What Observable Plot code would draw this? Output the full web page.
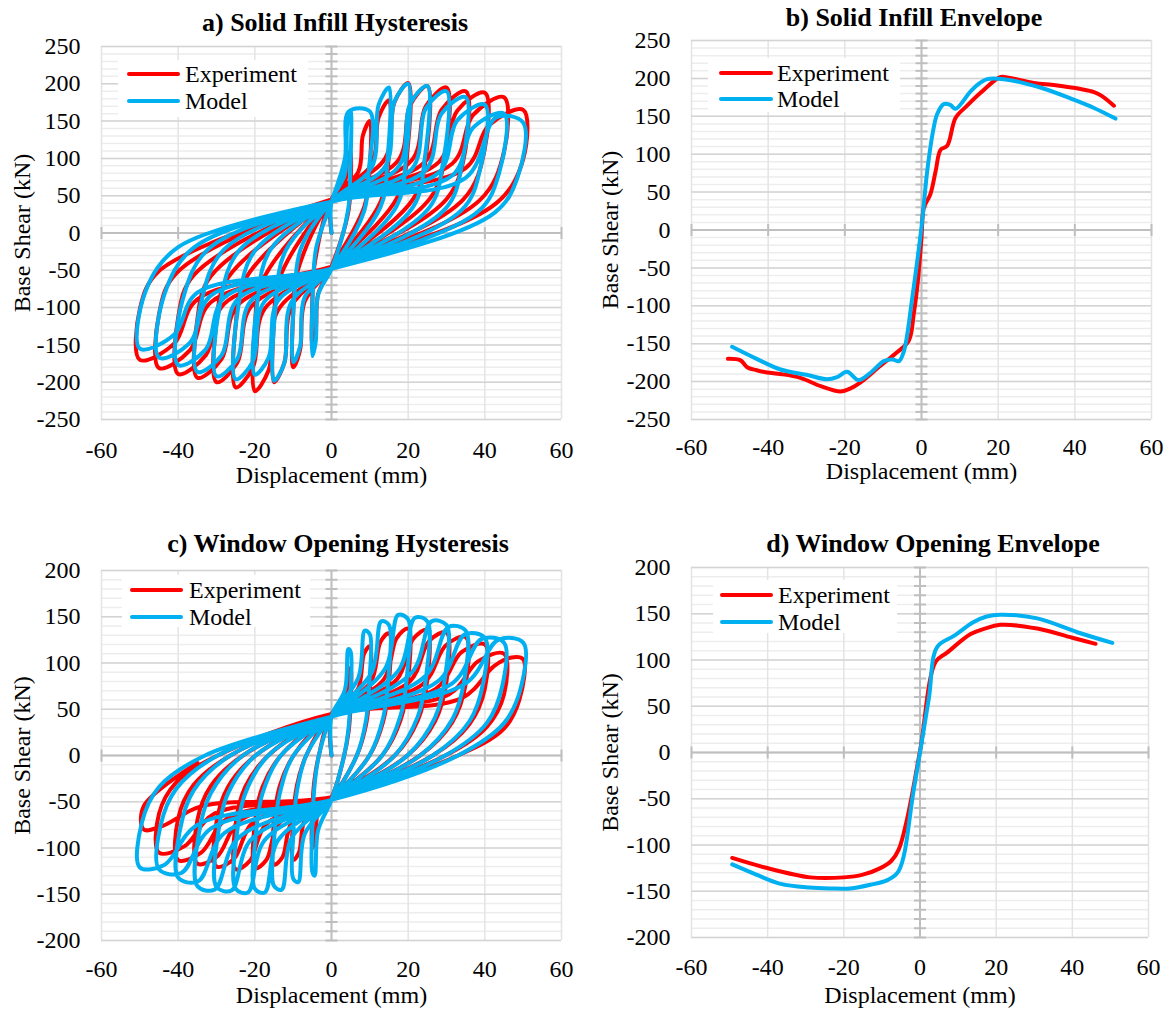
<!DOCTYPE html>
<html>
<head>
<meta charset="utf-8">
<script src="https://cdn.jsdelivr.net/npm/d3@7"></script>
<script src="https://cdn.jsdelivr.net/npm/@observablehq/plot@0.6"></script>
<style>
  body { margin: 0; background: #fff; }
  #root { position: relative; width: 1169px; height: 1010px; font-family: "Liberation Serif", "Times New Roman", serif; color: #000; overflow: hidden; }
  .panel { position: absolute; }
  .panel svg { max-width: none; display: block; }
  .title { position: absolute; font-weight: bold; font-size: 26px; line-height: 26px; white-space: nowrap; transform: translateX(-50%); }
  .lgbox { position: absolute; background: #fff; }
  .lgline { position: absolute; height: 4px; border-radius: 2px; }
  .lgtext { position: absolute; font-size: 24px; line-height: 24px; white-space: nowrap; }
</style>
</head>
<body>
<div id="root"></div>
<script>
// ---------------- DATA ----------------
const xTicks = [-60, -40, -20, 0, 20, 40, 60];
const yTicksSolid = [-250, -200, -150, -100, -50, 0, 50, 100, 150, 200, 250];
const yTicksWindow = [-200, -150, -100, -50, 0, 50, 100, 150, 200];
const yMinorSolid = d3.range(-250, 251, 10);
const yMinorWindow = d3.range(-200, 201, 10);

const seriesNames = ["Experiment", "Model"];
const seriesColors = ["#FF0000", "#00B0F0"];

const titles = ["a) Solid Infill Hysteresis", "b) Solid Infill Envelope", "c) Window Opening Hysteresis", "d) Window Opening Envelope"];
const xLabel = "Displacement (mm)";
const yLabel = "Base Shear (kN)";

// a) Solid infill hysteresis — [displacement mm, base shear kN], cycle by cycle
const solidHystExperiment = [
  [0,0],
  [0,45],[3.5,68],[4.1,96],[5,110],[5,66],[4.3,26],[0,-45],[-3.5,-82],[-4.1,-131],[-5,-150],[-5,-90],[-4.5,-45],
  [0,45],[7,82],[8.2,131],[10,150],[10,90],[8.6,36],[0,-45],[-7,-92],[-8.2,-157],[-10,-180],[-10,-108],[-9,-54],
  [0,45],[10.5,92],[12.3,155],[15,178],[15,107],[12.9,43],[0,-45],[-10.5,-99],[-12.3,-174],[-15,-200],[-15,-120],[-13.5,-60],
  [0,45],[14,100],[16.4,175],[20,201],[20,121],[17.2,48],[0,-45],[-14,-104],[-16.4,-184],[-20,-212],[-20,-127],[-18,-64],
  [0,45],[17.5,98],[20.5,171],[25,197],[25,118],[21.5,47],[0,-45],[-17.5,-102],[-20.5,-180],[-25,-207],[-25,-124],[-22.5,-62],
  [0,45],[21,98],[24.6,170],[30,195],[30,117],[25.8,47],[0,-45],[-21,-99],[-24.6,-174],[-30,-200],[-30,-120],[-27,-60],
  [0,45],[24.5,96],[28.7,165],[35,190],[35,114],[30.1,46],[0,-45],[-24.5,-97],[-28.7,-169],[-35,-194],[-35,-116],[-31.5,-58],
  [0,45],[28,95],[32.8,164],[40,188],[40,113],[34.4,45],[0,-45],[-28,-95],[-32.8,-164],[-40,-189],[-40,-113],[-36,-57],
  [0,45],[31.5,93],[36.9,158],[45,182],[45,109],[38.7,44],[0,-45],[-31.5,-93],[-36.9,-157],[-45,-181],[-45,-109],[-40.5,-54],
  [0,45],[35,87],[41,144],[50,165],[50,99],[43,40],[0,-45],[-35,-89],[-41,-148],[-50,-170],[-50,-102],[-45,-51],[0,45]
];
const solidHystModel = [
  [0,0],
  [0,42],[3.5,79],[4.1,145],[5,165],[4.9,83],[4.3,30],[0,-48],[-3.5,-83],[-4.1,-145],[-5,-165],[-4.9,-83],[-4,-20],
  [0,42],[3.5,100],[4.5,163],[10,163],[9.7,82],[8.5,29],[0,-48],[-7,-86],[-8.2,-152],[-10,-173],[-9.7,-87],[-8,-21],
  [0,42],[10.5,88],[12.3,172],[15,195],[14.6,98],[12.8,35],[0,-48],[-10.5,-93],[-12.3,-174],[-15,-198],[-14.6,-99],[-12,-24],
  [0,42],[14,89],[16.4,176],[20,200],[19.4,100],[17,36],[0,-48],[-14,-91],[-16.4,-167],[-20,-190],[-19.4,-95],[-16,-23],
  [0,42],[17.5,89],[20.5,173],[25,197],[24.3,99],[21.3,35],[0,-48],[-17.5,-92],[-20.5,-172],[-25,-196],[-24.3,-98],[-20,-24],
  [0,42],[21,86],[24.6,167],[30,190],[29.1,95],[25.5,34],[0,-48],[-21,-91],[-24.6,-169],[-30,-192],[-29.1,-96],[-24,-23],
  [0,42],[24.5,84],[28.7,160],[35,182],[34,91],[29.8,33],[0,-48],[-24.5,-89],[-28.7,-164],[-35,-186],[-34,-93],[-28,-22],
  [0,42],[28,81],[32.8,151],[40,172],[38.8,86],[34,31],[0,-48],[-28,-87],[-32.8,-156],[-40,-177],[-38.8,-89],[-32,-21],
  [0,42],[31.5,77],[36.9,141],[45,160],[43.7,80],[38.3,29],[0,-48],[-31.5,-84],[-36.9,-147],[-45,-167],[-43.7,-84],[-36,-20],
  [0,42],[35,74],[43,155],[50,148],[48.5,74],[42.5,27],[0,-48],[-35,-80],[-41,-136],[-50,-155],[-48.5,-78],[-40,-19],[0,42]
];

// b) Solid infill envelope
const solidEnvExperiment = [[-50.5,-170],[-47.2,-172],[-45.5,-181],[-43,-185],[-40.3,-188],[-36.8,-190],[-31.6,-195],[-26.3,-206],[-21.1,-213],[-18.5,-209],[-15.9,-201],[-10.7,-179],[-6.3,-161],[-3.3,-146],[-2,-110],[-1,-70],[0,-10],[0.6,29],[2.3,47],[3.7,78],[5,106],[6.7,111],[8.9,148],[11.9,164],[15.4,181],[20.2,201],[21.5,202],[29.3,194],[35,191],[41.5,186],[45,182],[47,177],[50.2,164]];
const solidEnvModel = [[-49.4,-154],[-43,-170],[-36.8,-184],[-30,-191],[-24.6,-197],[-22,-194],[-19.4,-187],[-16.4,-198],[-13,-187],[-9.8,-173],[-7.5,-171],[-5.9,-173],[-4.6,-160],[-2.4,-89],[0,4],[1.5,78],[3,130],[4.1,153],[5.8,166],[7.5,165],[8.9,160],[12.8,183],[15,193],[17.1,199],[21.5,199],[31,188],[39.7,172],[45,161],[50.6,147]];

// c) Window opening hysteresis
const windowHystExperiment = [
  [0,0],
  [0,45],[3.4,57],[4.3,88],[5,95],[5,57],[4.5,27],[3.3,0],[0,-45],[-3.4,-60],[-4.3,-93],[-5,-100],[-5,-60],[-4.5,-28],[-3.3,0],
  [0,45],[6.8,71],[8.5,110],[10,118],[10,71],[9,33],[6.6,0],[0,-45],[-6.8,-68],[-8.5,-105],[-10,-113],[-10,-68],[-9,-32],[-6.6,0],
  [0,45],[10.2,79],[12.8,123],[15,132],[15,79],[13.5,37],[9.9,0],[0,-45],[-10.2,-71],[-12.8,-110],[-15,-118],[-15,-71],[-13.5,-33],[-9.9,0],
  [0,45],[13.6,82],[17,127],[20,137],[20,82],[18,38],[13.2,0],[0,-45],[-13.6,-73],[-17,-113],[-20,-122],[-20,-73],[-18,-34],[-13.2,0],
  [0,45],[17,82],[21.3,126],[25,136],[25,82],[22.5,38],[16.5,0],[0,-45],[-17,-74],[-21.3,-114],[-25,-123],[-25,-74],[-22.5,-34],[-16.5,0],
  [0,45],[20.4,80],[25.5,124],[30,133],[30,80],[27,37],[19.8,0],[0,-45],[-20.4,-72],[-25.5,-112],[-30,-120],[-30,-72],[-27,-34],[-19.8,0],
  [0,45],[23.8,77],[29.8,119],[35,128],[35,77],[31.5,36],[23.1,0],[0,-45],[-23.8,-70],[-29.8,-109],[-35,-117],[-35,-70],[-31.5,-33],[-23.1,0],
  [0,45],[27.2,72],[34,112],[40,120],[40,72],[36,34],[26.4,0],[0,-45],[-27.2,-68],[-34,-105],[-40,-113],[-40,-68],[-36,-32],[-26.4,0],
  [0,45],[30.6,66],[38.3,102],[45,110],[45,66],[40.5,31],[29.7,0],[0,-45],[-30.6,-63],[-38.3,-98],[-45,-105],[-45,-63],[-40.5,-29],[-29.7,0],
  [0,45],[34,62],[42.5,97],[47,106],[50,104],[49,60],[45,29],[33,0],[0,-45],[-34,-55],[-44,-76],[-49,-80],[-49,-55],[-35,-8]
];
const windowHystModel = [
  [0,0],
  [0,42],[3.5,71],[4.4,115],[5,112],[5,69],[4.5,32],[3.3,0],[0,-48],[-3.5,-81],[-4.4,-130],[-5,-126],[-5,-78],[-4.5,-36],[-3.3,0],
  [0,42],[7,84],[8.7,135],[10,131],[9.9,81],[9,38],[6.6,0],[0,-48],[-7,-85],[-8.7,-137],[-10,-133],[-9.9,-82],[-9,-38],[-6.6,0],
  [0,42],[10.5,90],[13,145],[15,141],[14.9,87],[13.5,41],[9.9,0],[0,-48],[-10.5,-90],[-13,-145],[-15,-141],[-14.9,-87],[-13.5,-41],[-9.9,0],
  [0,42],[14,94],[17.4,152],[20,147],[19.8,91],[18,43],[13.2,0],[0,-48],[-14,-92],[-17.4,-148],[-20,-144],[-19.8,-89],[-18,-41],[-13.2,0],
  [0,42],[17.5,92],[21.8,149],[25,145],[24.8,89],[22.5,42],[16.5,0],[0,-48],[-17.5,-92],[-21.8,-148],[-25,-144],[-24.8,-89],[-22.5,-41],[-16.5,0],
  [0,42],[21,90],[26.1,145],[30,141],[29.7,87],[27,41],[19.8,0],[0,-48],[-21,-91],[-26.1,-146],[-30,-142],[-29.7,-88],[-27,-41],[-19.8,0],
  [0,42],[24.5,86],[30.5,139],[35,135],[34.7,83],[31.5,39],[23.1,0],[0,-48],[-24.5,-90],[-30.5,-145],[-35,-141],[-34.7,-87],[-31.5,-41],[-23.1,0],
  [0,42],[28,81],[34.8,131],[40,127],[39.6,79],[36,37],[26.4,0],[0,-48],[-28,-84],[-34.8,-136],[-40,-132],[-39.6,-82],[-36,-38],[-26.4,0],
  [0,42],[31.5,78],[39.2,126],[45,122],[44.6,76],[40.5,35],[29.7,0],[0,-48],[-31.5,-79],[-39.2,-127],[-45,-123],[-44.6,-76],[-40.5,-36],[-29.7,0],
  [0,42],[35,78],[43.5,125],[50,122],[49.5,75],[45,35],[33,0],[0,-48],[-35,-75],[-43.5,-118],[-50,-121],[-49.5,-73],[-45,-34],[-33,0],[0,42]
];

// d) Window opening envelope
const windowEnvExperiment = [[-49.3,-114],[-41,-124],[-28.8,-135],[-20,-135],[-15,-132],[-10.4,-125],[-7.5,-117],[-5.6,-105],[-3.4,-72],[0.1,4],[4.1,98],[7.1,108],[13.3,128],[17,134],[21.1,138],[30.8,134],[40,124],[46.1,117.5]];
const windowEnvModel = [[-49.3,-121],[-43,-132],[-36.6,-142],[-29,-146],[-23.5,-147],[-18.3,-147],[-13,-143],[-8.6,-138],[-5.6,-128],[-1.6,-39],[2.3,58],[4.5,114],[8.9,126],[14.1,141],[17.5,147],[21.1,149],[30.8,145],[41.3,130],[50.5,118.5]];

// ---------------- DRAWING ----------------
const root = document.getElementById("root");
const FONT = "serif";

const hTick = { draw(ctx, size) { const r = Math.sqrt(size / Math.PI); ctx.moveTo(-r, 0); ctx.lineTo(r, 0); } };
const vTick = { draw(ctx, size) { const r = Math.sqrt(size / Math.PI); ctx.moveTo(0, -r); ctx.lineTo(0, r); } };
const fmt = d => String(d);

function panel(cfg) {
  const { left, top, width, height, mt, mb, ml, mr, yDomain, yMajor, yMinor, series, xPad, xLabDy, yLabDx } = cfg;
  const lines = series.map((data, i) => Plot.line(data, {
    x: d => d[0], y: d => d[1], stroke: seriesColors[i], strokeWidth: 4,
    curve: "catmull-rom", strokeLinejoin: "round", strokeLinecap: "round"
  }));
  const chart = Plot.plot({
    width, height, marginTop: mt, marginBottom: mb, marginLeft: ml, marginRight: mr,
    x: { domain: [-60, 60] },
    y: { domain: yDomain },
    style: "font-family: serif; font-size: 24px; background: transparent; color: #000; overflow: visible;",
    marks: [
      Plot.ruleY(yMinor, { stroke: "#ededed", strokeWidth: 1.5 }),
      Plot.ruleX(xTicks, { stroke: "#e4e4e4", strokeWidth: 1.5 }),
      Plot.ruleY(yMajor, { stroke: "#d4d4d4", strokeWidth: 1.5 }),
      Plot.ruleY([0], { stroke: "#bfbfbf", strokeWidth: 2 }),
      Plot.ruleX([0], { stroke: "#bfbfbf", strokeWidth: 2 }),
      Plot.dot(yMinor, { x: () => 0, y: d => d, symbol: hTick, r: 6, fill: "none", stroke: "#bfbfbf", strokeWidth: 2 }),
      Plot.dot(xTicks, { x: d => d, y: () => 0, symbol: vTick, r: 6, fill: "none", stroke: "#bfbfbf", strokeWidth: 2 }),
      Plot.axisX(xTicks, { tickSize: 0, tickPadding: xPad, fontSize: 24, fontFamily: FONT, tickFormat: fmt, label: null }),
      Plot.axisY(yMajor, { tickSize: 0, tickPadding: 21, fontSize: 24, fontFamily: FONT, tickFormat: fmt, label: null }),
      Plot.text([xLabel], { frameAnchor: "bottom", dy: xLabDy, lineAnchor: "middle", fontSize: 24, fontFamily: FONT }),
      Plot.text([yLabel], { frameAnchor: "left", dx: yLabDx, rotate: -90, lineAnchor: "middle", textAnchor: "middle", fontSize: 24, fontFamily: FONT }),
      ...lines
    ]
  });
  chart.setAttribute("font-family", FONT);
  chart.querySelectorAll("g, text").forEach(t => { if (t.hasAttribute("font-family")) t.setAttribute("font-family", FONT); });
  const div = document.createElement("div");
  div.className = "panel";
  div.style.left = left + "px";
  div.style.top = top + "px";
  div.appendChild(chart);
  root.appendChild(div);
}

panel({ left: 0, top: 0, width: 575, height: 500, mt: 46, mb: 81, ml: 101, mr: 14,
  yDomain: [-250, 250], yMajor: yTicksSolid, yMinor: yMinorSolid,
  series: [solidHystExperiment, solidHystModel], xPad: 21, xLabDy: 56, yLabDx: -79 });
panel({ left: 590, top: 0, width: 579, height: 500, mt: 40, mb: 81, ml: 101, mr: 18,
  yDomain: [-250, 250], yMajor: yTicksSolid, yMinor: yMinorSolid,
  series: [solidEnvExperiment, solidEnvModel], xPad: 18, xLabDy: 52, yLabDx: -81 });
panel({ left: 0, top: 500, width: 575, height: 510, mt: 70, mb: 70, ml: 101, mr: 14,
  yDomain: [-200, 200], yMajor: yTicksWindow, yMinor: yMinorWindow,
  series: [windowHystExperiment, windowHystModel], xPad: 19, xLabDy: 55, yLabDx: -79 });
panel({ left: 590, top: 500, width: 579, height: 510, mt: 67, mb: 73, ml: 101, mr: 21,
  yDomain: [-200, 200], yMajor: yTicksWindow, yMinor: yMinorWindow,
  series: [windowEnvExperiment, windowEnvModel], xPad: 20, xLabDy: 58, yLabDx: -81 });

// titles
const titlePos = [[335, 10], [914, 5], [338, 531], [933, 531]];
titles.forEach((t, i) => {
  const d = document.createElement("div");
  d.className = "title";
  d.textContent = t;
  d.style.left = titlePos[i][0] + "px";
  d.style.top = titlePos[i][1] + "px";
  root.appendChild(d);
});

// legends: [boxLeft, boxTop, boxW, boxH, lineX1, lineX2, yRed, yBlue, textX]
const legendPos = [
  [118, 60, 190, 57, 127, 180, 74, 101, 185],
  [708, 58, 192, 54, 719, 773, 73, 99, 777],
  [122, 575, 188, 52, 130, 183, 590, 617, 189],
  [713, 580, 184, 53, 720, 773, 595, 622, 778]
];
legendPos.forEach(p => {
  const box = document.createElement("div");
  box.className = "lgbox";
  Object.assign(box.style, { left: p[0] + "px", top: p[1] + "px", width: p[2] + "px", height: p[3] + "px" });
  root.appendChild(box);
  seriesNames.forEach((name, i) => {
    const y = i === 0 ? p[6] : p[7];
    const ln = document.createElement("div");
    ln.className = "lgline";
    Object.assign(ln.style, { left: p[4] + "px", width: (p[5] - p[4]) + "px", top: (y - 2) + "px", background: seriesColors[i] });
    root.appendChild(ln);
    const tx = document.createElement("div");
    tx.className = "lgtext";
    tx.textContent = name;
    Object.assign(tx.style, { left: p[8] + "px", top: (y - 12) + "px" });
    root.appendChild(tx);
  });
});
</script>
</body>
</html>
